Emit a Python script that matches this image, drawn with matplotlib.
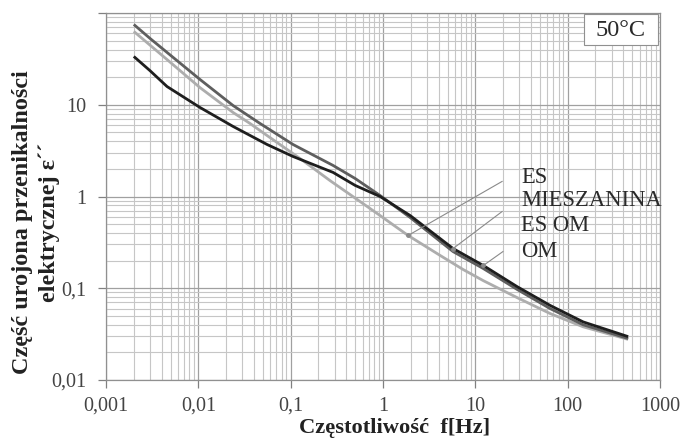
import numpy as np
import matplotlib
matplotlib.use("Agg")
import matplotlib.pyplot as plt
from matplotlib.patches import Rectangle
from matplotlib.ticker import FixedLocator, FixedFormatter, LogLocator, NullFormatter

# ---- data ----
f_es = [0.002, 0.00458, 0.0104, 0.0238, 0.0363, 0.0555, 0.0985, 0.126, 0.267, 0.44, 0.93, 1.87, 4.18, 7.38, 12.2, 28.4, 64.6, 147, 452]
v_es = [63, 31.1, 15.4, 8.23, 6.25, 4.62, 3.09, 2.6, 1.49, 1.05, 0.62, 0.376, 0.227, 0.16, 0.121, 0.079, 0.053, 0.038, 0.0277]

f_mies = [0.002, 0.003, 0.00458, 0.0104, 0.0238, 0.0555, 0.106, 0.288, 0.50, 0.93, 1.97, 5.74, 12.2, 28.4, 64.6, 147, 452]
v_mies = [33.6, 23.5, 15.8, 9.35, 5.8, 3.69, 2.73, 1.83, 1.32, 1.0, 0.62, 0.271, 0.177, 0.104, 0.065, 0.043, 0.0297]

f_om = [0.002, 0.003, 0.00458, 0.0104, 0.0238, 0.0466, 0.106, 0.288, 0.50, 0.93, 1.97, 5.74, 12.2, 28.4, 64.6, 147, 452]
v_om = [75, 52.8, 37.2, 18.9, 9.8, 6.25, 3.69, 2.18, 1.57, 1.025, 0.59, 0.251, 0.164, 0.097, 0.06, 0.040, 0.0283]

x_ticks = [0.001, 0.01, 0.1, 1, 10, 100, 1000]
x_labels = ["0,001", "0,01", "0,1", "1", "10", "100", "1000"]
y_ticks = [0.01, 0.1, 1, 10, 100]
y_labels = ["0,01", "0,1", "1", "10", ""]

labels = ["ES", "MIESZANINA", "ES OM", "OM"]
# leader lines: (series, frequency of target point, frequency/value of line start)
leaders = [("es", 1.87, 19.5, 1.46), ("mies", 5.74, 19.5, 0.686), ("mies", 12.2, 19.9, 0.251)]

serif = "Liberation Serif"

fig = plt.figure(figsize=(6.82, 4.43), dpi=100)
ax = fig.add_axes([106/682, 1-380/443, 554/682, 367/443])
ax.set_xscale("log")
ax.set_yscale("log")
ax.set_xlim(0.001, 1000)
ax.set_ylim(0.01, 100)

ax.xaxis.set_major_locator(FixedLocator(x_ticks))
ax.xaxis.set_major_formatter(FixedFormatter(x_labels))
ax.yaxis.set_major_locator(FixedLocator(y_ticks))
ax.yaxis.set_major_formatter(FixedFormatter(y_labels))
ax.xaxis.set_minor_locator(LogLocator(base=10, subs=np.arange(2, 10), numticks=20))
ax.yaxis.set_minor_locator(LogLocator(base=10, subs=np.arange(2, 10), numticks=20))
ax.xaxis.set_minor_formatter(NullFormatter())
ax.yaxis.set_minor_formatter(NullFormatter())

ax.grid(which="major", color="#a0a0a0", lw=0.9)
ax.grid(which="minor", color="#c6c6c6", lw=0.8)
ax.set_axisbelow(True)
ax.tick_params(which="major", direction="out", length=6, color="#808080", width=0.9, labelsize=14.5,
               labelcolor="#444444")
ax.tick_params(axis="x", which="major", pad=6)
ax.tick_params(axis="y", which="major", pad=8)
ax.tick_params(which="minor", length=0)
for lab in ax.get_xticklabels() + ax.get_yticklabels():
    lab.set_fontfamily(serif)
for s in ax.spines.values():
    s.set_color("#909090")
    s.set_linewidth(0.9)

series = {
    "es": (f_es, v_es, "#adadad"),
    "om": (f_om, v_om, "#5e5e5e"),
    "mies": (f_mies, v_mies, "#1e1e1e"),
}
for key in ["es", "om", "mies"]:
    fx, vy, c = series[key]
    ax.plot(fx, vy, color=c, lw=2.0, solid_capstyle="butt", solid_joinstyle="round", zorder=3)

# leader lines
for key, ft, fs, vs in leaders:
    fx, vy, _ = series[key]
    vt = 10 ** np.interp(np.log10(ft), np.log10(fx), np.log10(vy))
    ax.plot([fs, ft], [vs, vt], color="#8a8a8a", lw=0.8, zorder=4)
    ax.plot([ft], [vt], marker="o", ms=2.5, color="#8a8a8a", zorder=4)

label_y = [0.553, 0.490, 0.422, 0.349]
for txt, yy in zip(labels, label_y):
    ax.text(0.749, yy, txt, transform=ax.transAxes, fontsize=16.3, family=serif,
            color="#2a2a2a", ha="left", va="center", zorder=5)

# temperature box
ax.add_patch(Rectangle((0.862, 0.913), 0.134, 0.083, transform=ax.transAxes,
                       facecolor="white", edgecolor="#909090", lw=0.8, zorder=5))
ax.text(0.928, 0.953, "50°C", transform=ax.transAxes, fontsize=17.5, family=serif,
        color="#2a2a2a", ha="center", va="center", zorder=6)

fig.text(395/682, 1-428/443, "Częstotliwość  f[Hz]", fontsize=16.2, fontweight="bold",
         family=serif, color="#222222", ha="center", va="center")
fig.text(36/682, 1-222/443, "Część urojona przenikalności\nelektrycznej ε´´", fontsize=17.5,
         fontweight="bold", family=serif, color="#222222", ha="center", va="center",
         rotation=90, multialignment="center", linespacing=1.3)

fig.savefig("out.png", dpi=100)
